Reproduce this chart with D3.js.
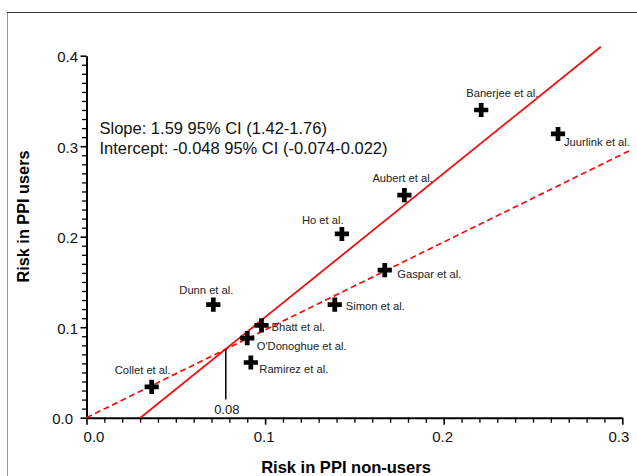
<!doctype html>
<html lang=en>
<head>
  <meta charset=utf-8>
  <title>Risk in PPI users vs non-users</title>
  <style>
    html, body {
      margin: 0;
      background: #fff;
    }
    svg {
      display: block;
      font-family: "Liberation Sans", Arial, Helvetica, sans-serif;
    }
    .axis path, .axis line {
      stroke: #000;
    }
    .axis text {
      fill: #111;
    }
    .study-label {
      font-size: 11.2px;
      fill: #222;
    }
  </style>
  <script src="https://cdn.jsdelivr.net/npm/d3@7"></script>
</head>
<body>
<script>
  // studies: risk in non-users (x) against risk in users (y)
  const studies = ['Banerjee et al.', 'Juurlink et al.', 'Aubert et al.', 'Ho et al.', 'Gaspar et al.',
    'Simon et al.', 'Dunn et al.', 'Bhatt et al.', "O'Donoghue et al.", 'Ramirez et al.', 'Collet et al.']
  const riskNonUsers = [0.221, 0.264, 0.178, 0.143, 0.167, 0.139, 0.071, 0.098, 0.090, 0.092, 0.0365]
  const riskUsers = [0.340, 0.3135, 0.246, 0.203, 0.163, 0.125, 0.125, 0.102, 0.088, 0.061, 0.034]

  const slope = 1.59
  const intercept = -0.048
  const fitRange = [0.0302, 0.288]
  // dashed reference line, end points
  const refLineX = [0, 0.304]
  const refLineY = [0, 0.295]
  const crossX = 0.078
  const crossY = [0.02, 0.0757]
  const crossLabel = '0.08'

  const xTicks = [0, 0.1, 0.2, 0.3]
  const yTicks = [0, 0.1, 0.2, 0.3, 0.4]
  const annotation = ['Slope: 1.59 95% CI (1.42-1.76)', 'Intercept: -0.048 95% CI (-0.074-0.022)']

  // label placement relative to each marker: [dx, dy, anchor]
  const labelPos = {
    'Banerjee et al.': [-15, -13, 'start'],
    'Juurlink et al.': [6, 12.5, 'start'],
    'Aubert et al.': [-32, -13, 'start'],
    'Ho et al.': [-40, -10, 'start'],
    'Gaspar et al.': [12.5, 8, 'start'],
    'Simon et al.': [11, 5, 'start'],
    'Dunn et al.': [-34, -11, 'start'],
    'Bhatt et al.': [10, 5.5, 'start'],
    "O'Donoghue et al.": [9.5, 11.5, 'start'],
    'Ramirez et al.': [8.5, 11, 'start'],
    'Collet et al.': [-37, -12.5, 'start'],
  }

  const width = 637
  const height = 476

  const svg = d3.select('body')
    .append('svg')
      .attr('width', width)
      .attr('height', height)

  // frame
  svg.append('line')
    .attr('x1', 7.5).attr('x2', 7.5).attr('y1', 12.5).attr('y2', height)
    .attr('stroke', '#9a9a9a')
  svg.append('line')
    .attr('x1', 7).attr('x2', width).attr('y1', 12.5).attr('y2', 12.5)
    .attr('stroke', '#333')

  const x = d3.scaleLinear()
    .domain([0, 0.3])
    .range([86.5, 622.3])
  const y = d3.scaleLinear()
    .domain([0, 0.4])
    .range([417.7, 55.7])

  const minorX = d3.range(0, 31).map(i => i / 100).filter(v => Math.round(v * 100) % 10)
  const minorY = d3.range(0, 41).map(i => i / 100).filter(v => Math.round(v * 100) % 10)

  // minor ticks
  svg.append('g')
    .attr('class', 'axis')
    .attr('transform', 'translate(0,' + y(0) + ')')
    .call(d3.axisBottom(x).tickValues(minorX).tickSize(5).tickFormat(''))
    .call(g => g.select('.domain').remove())
    .selectAll('line').attr('stroke-width', 1.3)
  svg.append('g')
    .attr('class', 'axis')
    .attr('transform', 'translate(' + x(0) + ',0)')
    .call(d3.axisLeft(y).tickValues(minorY).tickSize(4.5).tickFormat(''))
    .call(g => g.select('.domain').remove())
    .selectAll('line').attr('stroke-width', 1.3)

  // major axes
  const gx = svg.append('g')
    .attr('class', 'axis')
    .attr('transform', 'translate(0,' + y(0) + ')')
    .call(d3.axisBottom(x).tickValues(xTicks).tickSize(7).tickSizeOuter(0).tickPadding(7).tickFormat(d3.format('.1f')))
  gx.select('.domain').attr('stroke-width', 2)
  gx.selectAll('line').attr('stroke-width', 1.6)
  gx.selectAll('text')
    .attr('font-size', 15)
    .attr('font-family', null)
    .attr('dx', d => d === 0 ? 7 : d === 0.3 ? -4 : -1.5)

  const gy = svg.append('g')
    .attr('class', 'axis')
    .attr('transform', 'translate(' + x(0) + ',0)')
    .call(d3.axisLeft(y).tickValues(yTicks).tickSize(6).tickSizeOuter(0).tickPadding(2.5).tickFormat(d3.format('.1f')))
  gy.select('.domain').attr('stroke-width', 2)
  gy.selectAll('line').attr('stroke-width', 1.6)
  gy.selectAll('text')
    .attr('font-size', 15)
    .attr('font-family', null)
    .attr('dy', '0.4em')
    .attr('dx', d => d === 0 ? -5 : 0)

  // axis titles
  svg.append('text')
    .attr('x', 346)
    .attr('y', 473)
    .attr('text-anchor', 'middle')
    .attr('font-size', 16.5)
    .attr('font-weight', 'bold')
    .text('Risk in PPI non-users')
  svg.append('text')
    .attr('transform', 'translate(28.5,216.5) rotate(-90)')
    .attr('text-anchor', 'middle')
    .attr('font-size', 16.3)
    .attr('font-weight', 'bold')
    .text('Risk in PPI users')

  // dashed reference line
  svg.append('line')
    .attr('x1', x(refLineX[0])).attr('y1', y(refLineY[0]))
    .attr('x2', x(refLineX[1])).attr('y2', y(refLineY[1]))
    .attr('stroke', '#ee1111')
    .attr('stroke-width', 1.7)
    .attr('stroke-dasharray', '6,3.5')

  // regression line
  svg.append('path')
    .datum(fitRange)
    .attr('fill', 'none')
    .attr('stroke', '#ee1111')
    .attr('stroke-width', 1.8)
    .attr('d', d3.line()
      .x(d => x(d))
      .y(d => y(slope * d + intercept)))

  // crossing marker
  svg.append('line')
    .attr('x1', x(crossX)).attr('x2', x(crossX))
    .attr('y1', y(crossY[0])).attr('y2', y(crossY[1]))
    .attr('stroke', '#000')
    .attr('stroke-width', 1.5)
  svg.append('text')
    .attr('x', x(crossX) + 1)
    .attr('y', y(crossY[0]) + 14.5)
    .attr('text-anchor', 'middle')
    .attr('font-size', 13)
    .attr('fill', '#111')
    .text(crossLabel)

  // annotation
  svg.append('text')
    .attr('font-size', 16.5)
    .attr('fill', '#111')
    .selectAll('tspan')
    .data(annotation)
    .enter()
    .append('tspan')
      .attr('x', 99.5)
      .attr('y', (d, i) => 134 + i * 19.5)
      .text(d => d)

  // markers
  const data = studies.map((name, i) => ({ name, rx: riskNonUsers[i], ry: riskUsers[i] }))
  const cross = d3.symbol(d3.symbolCross, 112)

  svg.append('g')
    .selectAll('path')
    .data(data)
    .enter()
    .append('path')
      .attr('transform', d => 'translate(' + x(d.rx) + ',' + y(d.ry) + ')')
      .attr('d', cross)
      .attr('fill', '#000')

  svg.append('g')
    .selectAll('text')
    .data(data)
    .enter()
    .append('text')
      .attr('class', 'study-label')
      .attr('x', d => x(d.rx) + labelPos[d.name][0])
      .attr('y', d => y(d.ry) + labelPos[d.name][1])
      .attr('text-anchor', d => labelPos[d.name][2])
      .text(d => d.name)
</script>
</body>
</html>
